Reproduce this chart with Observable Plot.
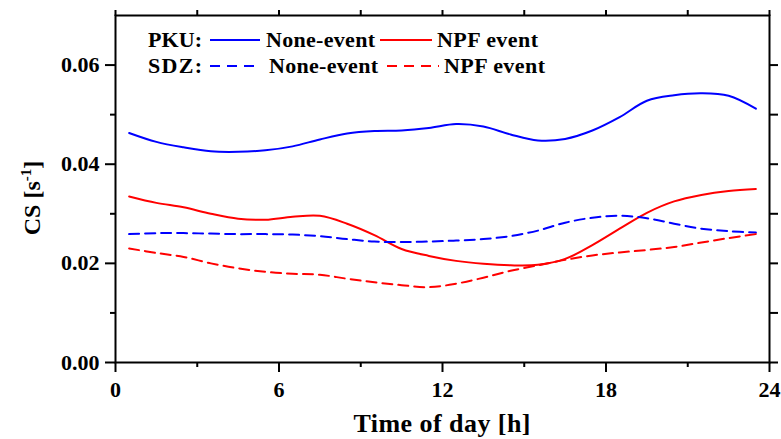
<!DOCTYPE html>
<html><head><meta charset="utf-8">
<script src="https://cdn.jsdelivr.net/npm/d3@7"></script>
<script src="https://cdn.jsdelivr.net/npm/@observablehq/plot@0.6"></script>
<style>
body{margin:0;background:#fff;}
#wrap{position:relative;width:781px;height:439px;font-family:"Liberation Serif",serif;font-weight:bold;}
#wrap svg text{font-family:"Liberation Serif",serif;font-weight:bold;}
#ov{position:absolute;left:0;top:0;pointer-events:none;}
</style></head>
<body><div id="wrap"></div>
<script>
const hours = [0.5,1.5,2.5,3.5,4.5,5.5,6.5,7.5,8.5,9.5,10.5,11.5,12.5,13.5,14.5,15.5,16.5,17.5,18.5,19.5,20.5,21.5,22.5,23.5];
const pkuNone = [0.0463,0.0445,0.0434,0.0426,0.0425,0.0428,0.0436,0.0450,0.0462,0.0467,0.0468,0.0473,0.0481,0.0476,0.0460,0.0448,0.0451,0.0468,0.0495,0.0528,0.0539,0.0543,0.0538,0.0512];
const pkuNpf = [0.0335,0.0322,0.0313,0.0300,0.0290,0.0288,0.0294,0.0296,0.0280,0.0257,0.0229,0.0215,0.0205,0.0199,0.0196,0.0197,0.0209,0.0237,0.0270,0.0302,0.0325,0.0338,0.0346,0.0350];
const sdzNone = [0.0259,0.0261,0.0261,0.0260,0.0259,0.0259,0.0258,0.0255,0.0249,0.0244,0.0243,0.0244,0.0246,0.0249,0.0255,0.0266,0.0282,0.0292,0.0296,0.0291,0.0280,0.0270,0.0265,0.0262];
const sdzNpf = [0.0230,0.0221,0.0213,0.0200,0.0190,0.0183,0.0179,0.0177,0.0169,0.0162,0.0156,0.0152,0.0159,0.0171,0.0185,0.0196,0.0207,0.0216,0.0222,0.0227,0.0233,0.0242,0.0251,0.0259];
const xMajor = [0,6,12,18,24];
const xMinor = [3,9,15,21];
const yMajor = [0,0.02,0.04,0.06];
const yMinor = [0.01,0.03,0.05];
const xTitle = "Time of day [h]";
const yTitle = "CS [s";
const legendRows = [
  {site:"PKU:", dash:null},
  {site:"SDZ:", dash:"10,7"}
];
const seriesNames = ["None-event","NPF event"];
const colors = ["#0000ff","#ff0000"];

const mk = (vals) => hours.map((h,i)=>({h, v: vals[i]}));
const series = [
  {data: mk(pkuNone), color: colors[0], dash: null},
  {data: mk(pkuNpf), color: colors[1], dash: null},
  {data: mk(sdzNone), color: colors[0], dash: "10,6"},
  {data: mk(sdzNpf), color: colors[1], dash: "10,6"}
];
const fs = 22;
const ff = "Liberation Serif";
const chart = Plot.plot({
  width: 781, height: 439,
  marginLeft: 115, marginRight: 12, marginTop: 15, marginBottom: 77,
  style: {fontFamily: "'Liberation Serif', serif", fontWeight: "bold", background: "#fff", color: "#000"},
  x: {domain: [0,24]},
  y: {domain: [0,0.07]},
  marks: [
    ...series.map(s => Plot.line(s.data, {x:"h", y:"v", stroke: s.color, strokeWidth: 2, strokeDasharray: s.dash, curve: "catmull-rom"})),
    Plot.axisY({ticks: yMajor, tickSize: 10, tickPadding: 6, tickFormat: d3.format(".2f"), fontSize: fs, fontFamily: ff, fontWeight: "bold", strokeWidth: 2, label: null}),
    Plot.axisY({ticks: yMinor, tickSize: 5, tickFormat: () => "", strokeWidth: 2, label: null}),
    Plot.axisY({anchor: "right", ticks: yMajor.concat(yMinor), tickSize: 8, tickFormat: () => "", strokeWidth: 2, label: null}),
    Plot.axisX({ticks: xMajor, tickSize: 10, tickPadding: 9, fontSize: fs, fontFamily: ff, fontWeight: "bold", strokeWidth: 2, label: null}),
    Plot.axisX({ticks: xMinor, tickSize: 5, tickFormat: () => "", strokeWidth: 2, label: null}),
    Plot.axisX({anchor: "top", ticks: xMajor.concat(xMinor), tickSize: 6, tickFormat: () => "", strokeWidth: 2, label: null}),
    Plot.frame({stroke: "#000", strokeWidth: 2})
  ]
});
const wrap = document.getElementById("wrap");
wrap.appendChild(chart);

// overlay: legend and axis titles
const NS = "http://www.w3.org/2000/svg";
const ov = document.createElementNS(NS, "svg");
ov.setAttribute("id","ov"); ov.setAttribute("width",781); ov.setAttribute("height",439);
ov.setAttribute("font-family","Liberation Serif, serif"); ov.setAttribute("font-weight","bold");
wrap.appendChild(ov);
function el(tag, attrs, text){const e=document.createElementNS(NS,tag);for(const k in attrs)e.setAttribute(k,attrs[k]);if(text!=null)e.textContent=text;ov.appendChild(e);return e;}
const rowY = [47, 73];
const rowX = [[148,210,266,380,437],[148,210,269,387,444]];
legendRows.forEach((r,i)=>{
  const y = rowY[i], xs = rowX[i];
  el("text",{x:xs[0],y:y,"font-size":22,"textLength":54},r.site);
  el("line",{x1:xs[1],x2:xs[1]+50,y1:y-7,y2:y-7,stroke:colors[0],"stroke-width":2,"stroke-dasharray":r.dash||"none"});
  el("text",{x:xs[2],y:y,"font-size":22,"textLength":109},seriesNames[0]);
  el("line",{x1:xs[3],x2:xs[3]+52,y1:y-7,y2:y-7,stroke:colors[1],"stroke-width":2,"stroke-dasharray":r.dash||"none"});
  el("text",{x:xs[4],y:y,"font-size":22,"textLength":101},seriesNames[1]);
});
el("text",{x:442,y:432,"font-size":26,"text-anchor":"middle","textLength":177},xTitle);
const yt = el("text",{transform:"translate(40,198) rotate(-90)","font-size":24,"text-anchor":"middle"},null);
const t1=document.createElementNS(NS,"tspan");t1.textContent=yTitle;yt.appendChild(t1);
const t2=document.createElementNS(NS,"tspan");t2.setAttribute("dy","-9");t2.setAttribute("font-size","15");t2.textContent="-1";yt.appendChild(t2);
const t3=document.createElementNS(NS,"tspan");t3.setAttribute("dy","9");t3.textContent="]";yt.appendChild(t3);
</script></body></html>
